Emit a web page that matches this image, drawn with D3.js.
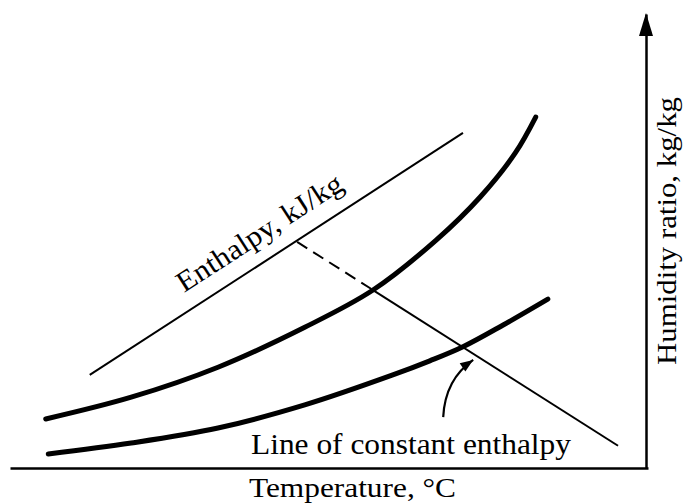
<!DOCTYPE html>
<html>
<head>
<meta charset="utf-8">
<script src="https://cdn.jsdelivr.net/npm/d3@7"></script>
<style>
  body{margin:0;background:#fff;}
  svg{display:block;}
  text{font-family:"Liberation Serif","DejaVu Serif",serif;fill:#000;}
</style>
</head>
<body>
<svg></svg>
<script>
// values (arbitrary units, 0-100 on each axis)
var satTemp=[5.6,19.0,32.6,46.2,56.9,66.8,73.7,79.2,82.4];
var satHum=[10.8,15.6,22.2,31.0,39.2,50.2,59.7,69.4,77.3];
var lowTemp=[6.0,19.0,32.6,46.2,60.0,65.8,71.0,77.3,84.3];
var lowHum=[3.1,5.5,8.8,13.9,20.5,23.6,26.7,31.5,37.2];
var enthTemp=[12.5,71.0];
var enthHum=[20.5,73.8];
// constant enthalpy line: start (dashed part), crossing of saturation curve, end
var constTemp=[45.0,56.9,95.3];
var constHum=[49.8,39.2,4.9];
// curved pointer to the lower curve crossing
var ptrTemp=[67.9,68.2,72.6];
var ptrHum=[11.2,19.5,23.8];
var xTitle="Temperature, \u00B0C";
var yTitle="Humidity ratio, kg/kg";
var enthTitle="Enthalpy, kJ/kg";
var constTitle="Line of constant enthalpy";

var drawChart=function(w,h)
{
  var svg=d3.select("svg")
            .attr("width",w)
            .attr("height",h);

  var xScale=d3.scaleLinear()
               .domain([0,100])
               .range([10,648]);
  var yScale=d3.scaleLinear()
               .domain([0,100])
               .range([468,14]);

  var zip=function(xs,ys){
    return xs.map(function(d,i){return [d,ys[i]];});
  };
  var line=d3.line()
             .x(function(d){return xScale(d[0]);})
             .y(function(d){return yScale(d[1]);});
  var curve=d3.line()
              .curve(d3.curveCatmullRom.alpha(0.5))
              .x(function(d){return xScale(d[0]);})
              .y(function(d){return yScale(d[1]);});

  //axes without ticks
  var xAxis=d3.axisBottom(xScale).tickValues([]).tickSizeOuter(0);
  var yAxis=d3.axisRight(yScale).tickValues([]).tickSizeOuter(0);
  svg.append("g").classed("xAxis",true)
     .attr("transform","translate(0,"+yScale(0)+")")
     .call(xAxis)
     .select(".domain").attr("stroke-width",2.5);
  svg.append("g").classed("yAxis",true)
     .attr("transform","translate("+(xScale(100)-2)+",0)")
     .call(yAxis)
     .select(".domain").attr("stroke-width",2.5);

  //arrow head of y axis
  var ax=xScale(100)-2, ay=yScale(100);
  svg.append("path")
     .attr("d","M"+ax+","+(ay-1)+"L"+(ax+7)+","+(ay+22)+"L"+(ax-7)+","+(ay+22)+"Z")
     .attr("fill","#000");

  //thick curves
  svg.append("path")
     .attr("d",curve(zip(satTemp,satHum)))
     .attr("fill","none").attr("stroke","#000")
     .attr("stroke-width",5).attr("stroke-linecap","round");
  svg.append("path")
     .attr("d",curve(zip(lowTemp,lowHum)))
     .attr("fill","none").attr("stroke","#000")
     .attr("stroke-width",5).attr("stroke-linecap","round");

  //reference enthalpy line
  svg.append("path")
     .attr("d",line(zip(enthTemp,enthHum)))
     .attr("fill","none").attr("stroke","#000")
     .attr("stroke-width",2);

  //constant enthalpy line, dashed then solid
  var cpts=zip(constTemp,constHum);
  svg.append("path")
     .attr("d",line(cpts.slice(0,2)))
     .attr("fill","none").attr("stroke","#000")
     .attr("stroke-width",2).attr("stroke-dasharray","12,7");
  svg.append("path")
     .attr("d",line(cpts.slice(1)))
     .attr("fill","none").attr("stroke","#000")
     .attr("stroke-width",2);

  //pointer arrow
  var p=zip(ptrTemp,ptrHum).map(function(d){return [xScale(d[0]),yScale(d[1])];});
  svg.append("path")
     .attr("d","M"+p[0][0]+","+p[0][1]+"Q"+p[1][0]+","+p[1][1]+" "+p[2][0]+","+p[2][1])
     .attr("fill","none").attr("stroke","#000").attr("stroke-width",2.2);
  var ang=Math.atan2(p[2][1]-p[1][1],p[2][0]-p[1][0]);
  var hl=13, hw=5;
  var bx=p[2][0]-hl*Math.cos(ang), by=p[2][1]-hl*Math.sin(ang);
  svg.append("path")
     .attr("d","M"+p[2][0]+","+p[2][1]
          +"L"+(bx+hw*Math.sin(ang))+","+(by-hw*Math.cos(ang))
          +"L"+(bx-hw*Math.sin(ang))+","+(by+hw*Math.cos(ang))+"Z")
     .attr("fill","#000");

  //labels
  svg.append("text")
     .attr("x",249).attr("y",497)
     .attr("font-size",27)
     .attr("textLength",207).attr("lengthAdjust","spacingAndGlyphs")
     .text(xTitle);
  svg.append("text")
     .attr("transform","translate(676,365) rotate(-90)")
     .attr("font-size",27)
     .attr("textLength",268).attr("lengthAdjust","spacingAndGlyphs")
     .text(yTitle);
  svg.append("text")
     .attr("x",251).attr("y",454)
     .attr("font-size",30)
     .attr("textLength",320).attr("lengthAdjust","spacingAndGlyphs")
     .text(constTitle);
  var e0=[xScale(enthTemp[0]),yScale(enthHum[0])], e1=[xScale(enthTemp[1]),yScale(enthHum[1])];
  var eang=Math.atan2(e1[1]-e0[1],e1[0]-e0[0])*180/Math.PI;
  svg.append("text")
     .attr("transform","translate(184,293) rotate("+eang+")")
     .attr("font-size",29)
     .attr("textLength",192).attr("lengthAdjust","spacingAndGlyphs")
     .text(enthTitle);
};

drawChart(684,504);
</script>
</body>
</html>
